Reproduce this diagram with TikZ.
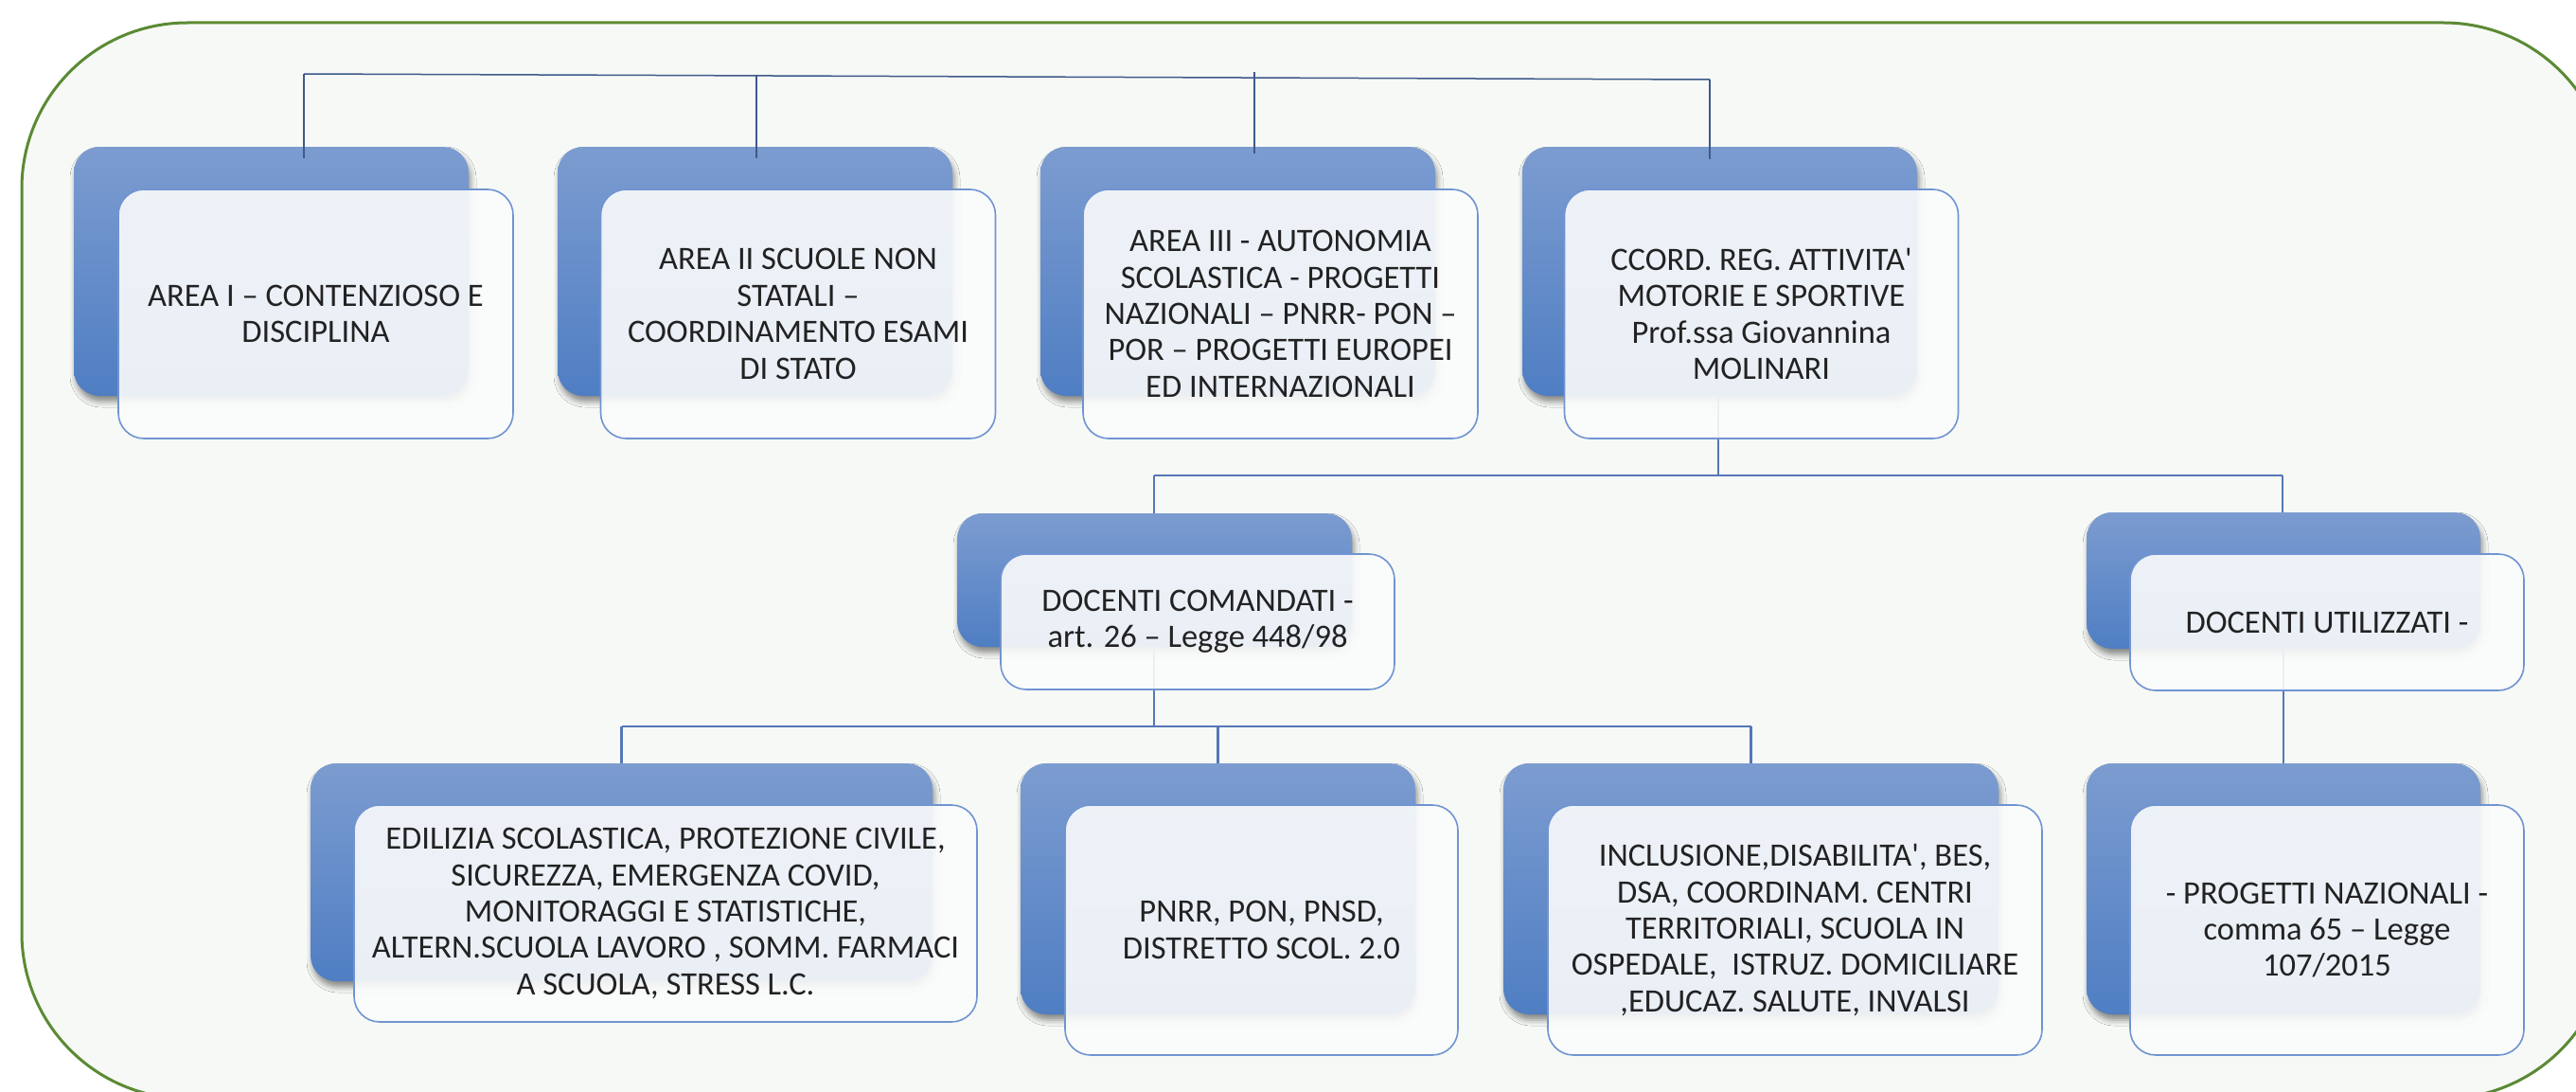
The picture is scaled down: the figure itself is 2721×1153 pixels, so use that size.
\documentclass[tikz,border=0pt]{standalone}
\usepackage{fontspec}
\setmainfont{Carlito}
\usetikzlibrary{shadows.blur,calc}
\definecolor{outerfill}{HTML}{F7F9F6}
\definecolor{outerline}{HTML}{5B8A34}
\definecolor{backtop}{HTML}{7C9CD0}
\definecolor{backbot}{HTML}{4F7EC3}
\definecolor{frontline}{HTML}{7094D2}
\definecolor{frontfill}{HTML}{FBFCFC}
\definecolor{busline}{HTML}{3D5A8A}
\definecolor{linkline}{HTML}{5577B8}
\definecolor{txt}{HTML}{222222}
\tikzset{
 backbox/.style={rounded corners=27pt, top color=backtop, bottom color=backbot, draw=none, inner sep=0pt, outer sep=0pt,
   blur shadow={shadow xshift=2pt, shadow yshift=-6pt, shadow blur radius=6pt, shadow opacity=45}},
 frontbox/.style={rounded corners=27pt, fill=frontfill, fill opacity=0.9, text opacity=1, draw=frontline, draw opacity=1,
   line width=1.6pt, inner sep=0pt, outer sep=0pt, align=center, text=txt, font=\fontsize{34.5}{38.4}\selectfont},
 bus/.style={draw=busline, line width=1.5pt},
 link/.style={draw=linkline, line width=2.3pt},
}
\begin{document}
\begin{tikzpicture}[x=1pt,y=-1pt]
\useasboundingbox (0,0) rectangle (2721,1153);
\clip (0,0) rectangle (2721,1153);
\fill[white] (0,0) rectangle (2721,1153);
\draw[outerline, fill=outerfill, line width=3pt, rounded corners=175pt] (23,24) rectangle (2756,1160);

% back boxes
\node[backbox, minimum width=417pt, minimum height=263pt] (b1) at (286.5,286.5) {};
\node[backbox, minimum width=417pt, minimum height=263pt] (b2) at (797.5,286.5) {};
\node[backbox, minimum width=417pt, minimum height=263pt] (b3) at (1307.5,286.5) {};
\node[backbox, minimum width=417pt, minimum height=263pt] (b4) at (1816.5,286.5) {};
\node[backbox, minimum width=417pt, minimum height=141pt] (m1) at (1219.5,612.5) {};
\node[backbox, minimum width=416pt, minimum height=144pt] (m2) at (2412,613) {};
\node[backbox, minimum width=657pt, minimum height=230pt] (c1) at (656.5,921) {};
\node[backbox, minimum width=417pt, minimum height=265pt] (c2) at (1286.5,938.5) {};
\node[backbox, minimum width=523pt, minimum height=265pt] (c3) at (1849.5,938.5) {};
\node[backbox, minimum width=416pt, minimum height=265pt] (c4) at (2412,938.5) {};

% connectors
\coordinate (t1) at (321,78);
\coordinate (t2) at (799,80);
\coordinate (t3) at (1325,76);
\coordinate (t4) at (1806,84);
\draw[bus] (t1) -- (t4);
\draw[bus] (t1) -- ($(t1 |- b1.north)+(0,12)$);
\draw[bus] (t2) -- ($(t2 |- b2.north)+(0,12)$);
\draw[bus] (t3) -- ($(t3 |- b3.north)+(0,7)$);
\draw[bus] (t4) -- ($(t4 |- b4.north)+(0,13)$);

\coordinate (j0) at (1815,502);
\coordinate (jl) at (1219,502);
\coordinate (jr) at (2411,502);
\draw[link] (j0 |- b4.south) -- (j0);
\draw[link] (jl) -- (jr);
\draw[link] (jl) -- (jl |- m1.north);
\draw[link] (jr) -- (jr |- m2.north);

\coordinate (k0) at (1219,767);
\draw[link] (k0 |- m1.south) -- (k0);
\draw[link] (c1.north |- k0) -- (c3.north |- k0);
\draw[link] (c1.north |- k0) -- (c1.north);
\draw[link] (c2.north |- k0) -- (c2.north);
\draw[link] (c3.north |- k0) -- (c3.north);
\draw[link] (m2.south) -- (m2.south |- c4.north);

% front boxes
\node[frontbox, minimum width=417pt, minimum height=263pt] (f1) at (333.5,331.5) {AREA I – CONTENZIOSO E\\DISCIPLINA};
\node[frontbox, minimum width=417pt, minimum height=263pt] (f2) at (843,331.5) {AREA II SCUOLE NON\\STATALI –\\COORDINAMENTO ESAMI\\DI STATO};
\node[frontbox, minimum width=417pt, minimum height=263pt] (f3) at (1352.5,331.5) {AREA III - AUTONOMIA\\SCOLASTICA - PROGETTI\\NAZIONALI – PNRR- PON –\\POR – PROGETTI EUROPEI\\ED INTERNAZIONALI};
\node[frontbox, minimum width=416pt, minimum height=263pt] (f4) at (1860.5,331.5) {CCORD. REG. ATTIVITA\textquotesingle\\MOTORIE E SPORTIVE\\Prof.ssa Giovannina\\MOLINARI};
\node[frontbox, minimum width=416pt, minimum height=143pt] (g1) at (1265,656.5) {DOCENTI COMANDATI -\\art. 26 – Legge 448/98};
\node[frontbox, minimum width=416pt, minimum height=144pt] (g2) at (2458,657) {DOCENTI UTILIZZATI -};
\node[frontbox, minimum width=658pt, minimum height=229pt] (h1) at (703,964.5) {EDILIZIA SCOLASTICA, PROTEZIONE CIVILE,\\SICUREZZA, EMERGENZA COVID,\\MONITORAGGI E STATISTICHE,\\ALTERN.SCUOLA LAVORO , SOMM. FARMACI\\A SCUOLA, STRESS L.C.};
\node[frontbox, minimum width=415pt, minimum height=264pt] (h2) at (1332.5,982) {PNRR, PON, PNSD,\\DISTRETTO SCOL. 2.0};
\node[frontbox, minimum width=522pt, minimum height=264pt] (h3) at (1896,982) {INCLUSIONE,DISABILITA\textquotesingle, BES,\\DSA, COORDINAM. CENTRI\\TERRITORIALI, SCUOLA IN\\OSPEDALE,\ \ ISTRUZ. DOMICILIARE\\,EDUCAZ. SALUTE, INVALSI};
\node[frontbox, minimum width=416pt, minimum height=264pt] (h4) at (2458,982) {- PROGETTI NAZIONALI -\\comma 65 – Legge\\107/2015};
\end{tikzpicture}
\end{document}
